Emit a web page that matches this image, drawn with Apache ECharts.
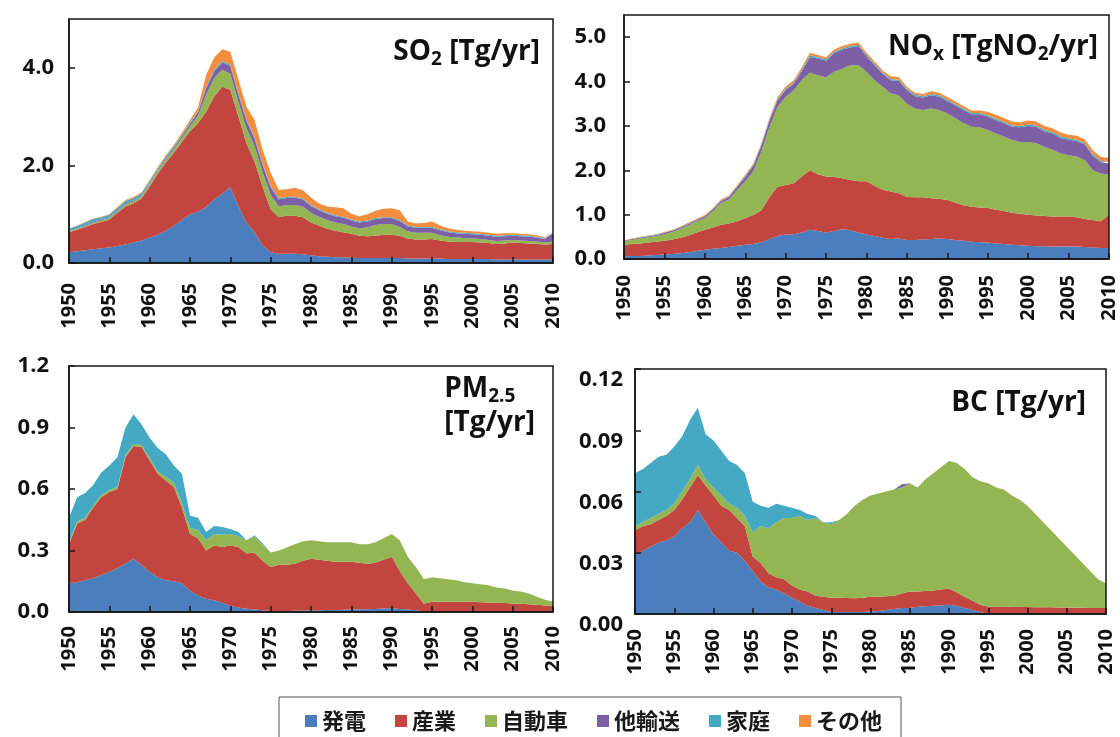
<!DOCTYPE html>
<html>
<head>
<meta charset="utf-8">
<title>日本の大気汚染物質排出量 1950-2010</title>
<script src="https://cdn.jsdelivr.net/npm/echarts@6/dist/echarts.min.js"></script>
<style>
  html, body { margin: 0; padding: 0; background: #fff; }
  #chart { width: 1120px; height: 737px; }
</style>
</head>
<body>
<div id="chart"></div>
<script>
// Years on the horizontal axes (1950 ... 2010)
const years = [];
for (let y = 1950; y <= 2010; y++) years.push(String(y));

const sectors = ['発電', '産業', '自動車', '他輸送', '家庭', 'その他'];
const sectorColors = ['#4a7ebd', '#c2463f', '#93b552', '#7d5fa6', '#45a9c4', '#f28e3e'];

// ---- SO2 [Tg/yr] ----
const so2Power = [.22,.24,.26,.28,.30,.32,.35,.38,.42,.46, .52,.58,.66,.76,.88,1.00,1.05,1.15,1.30,1.42, 1.55,1.17,.83,.63,.36,.22,.19,.19,.19,.18, .16,.14,.13,.12,.12,.11,.10,.10,.10,.10, .10,.10,.09,.09,.09,.09,.09,.08,.08,.08, .08,.08,.08,.07,.07,.07,.07,.07,.07,.07,.07];
const so2Industry = [.41,.44,.48,.52,.54,.57,.68,.78,.80,.86, 1.05,1.25,1.40,1.50,1.60,1.70,1.82,1.95,2.11,2.19, 2.00,1.83,1.63,1.45,1.20,.88,.75,.78,.78,.76, .67,.63,.57,.54,.51,.49,.46,.45,.46,.48, .48,.46,.41,.39,.39,.40,.37,.36,.35,.35, .35,.34,.33,.32,.33,.35,.34,.33,.32,.31,.32];
const so2Vehicle = [.02,.02,.02,.03,.03,.03,.03,.04,.04,.05, .05,.05,.06,.07,.08,.10,.15,.35,.38,.35, .33,.30,.30,.32,.30,.30,.22,.22,.22,.22, .20,.18,.18,.17,.17,.15,.15,.18,.22,.22, .22,.18,.15,.14,.14,.13,.11,.10,.09,.08, .07,.07,.06,.06,.06,.05,.05,.05,.05,.04,.05];
const so2Transport = [.01,.01,.02,.02,.02,.02,.02,.02,.02,.02, .02,.02,.03,.03,.04,.05,.07,.13,.14,.15, .15,.15,.15,.15,.15,.15,.14,.14,.15,.14, .14,.13,.13,.13,.13,.12,.12,.12,.12,.12, .12,.12,.10,.10,.10,.10,.10,.09,.09,.09, .09,.09,.09,.09,.09,.09,.09,.09,.08,.07,.18];
const so2Domestic = [.04,.05,.05,.05,.05,.05,.05,.05,.05,.04, .04,.03,.03,.03,.03,.03,.02,.03,.03,.03, .03,.03,.03,.03,.03,.03,.03,.02,.02,.02, .02,.02,.02,.02,.02,.02,.02,.02,.02,.02, .02,.02,.02,.02,.02,.02,.02,.02,.02,.02, .02,.02,.02,.02,.02,.02,.02,.02,.02,.01,.02];
const so2Other = [.00,.01,.01,.01,.01,.01,.02,.02,.02,.02, .02,.03,.03,.03,.04,.05,.08,.24,.25,.24, .27,.28,.26,.35,.28,.27,.17,.16,.18,.17, .15,.12,.13,.16,.17,.12,.11,.13,.15,.17, .18,.20,.08,.07,.08,.11,.08,.06,.05,.04, .04,.04,.04,.04,.04,.03,.03,.03,.03,.02,.02];

// ---- NOx [TgNO2/yr] ----
const noxPower = [.06,.07,.07,.08,.09,.10,.11,.13,.15,.18, .21,.23,.25,.27,.30,.32,.34,.38,.45,.52, .55,.56,.60,.66,.63,.60,.63,.67,.65,.60, .55,.52,.48,.45,.46,.43,.43,.44,.45,.46, .45,.43,.41,.39,.38,.37,.35,.34,.32,.31, .30,.29,.29,.28,.28,.28,.28,.27,.26,.25,.25];
const noxIndustry = [.26,.27,.28,.29,.30,.31,.33,.35,.38,.42, .45,.48,.52,.53,.55,.60,.65,.72,.95,1.11, 1.12,1.15,1.26,1.34,1.28,1.26,1.22,1.15,1.13,1.15, 1.20,1.13,1.08,1.07,1.02,.97,.96,.95,.92,.90, .88,.84,.80,.79,.78,.78,.76,.74,.72,.71, .70,.69,.68,.68,.68,.68,.66,.63,.62,.60,.75];
const noxVehicle = [.08,.09,.11,.12,.13,.15,.17,.20,.23,.25, .26,.37,.49,.54,.71,.83,.99,1.33,1.58,1.80, 1.99,2.09,2.18,2.20,2.23,2.23,2.37,2.47,2.59,2.62, 2.47,2.38,2.32,2.21,2.21,2.10,2.00,1.97,2.02,2.00, 1.95,1.90,1.85,1.80,1.81,1.76,1.72,1.68,1.64,1.62, 1.64,1.63,1.56,1.50,1.42,1.38,1.37,1.33,1.12,1.08,.90];
const noxTransport = [.01,.02,.02,.02,.02,.03,.03,.03,.03,.03, .04,.04,.05,.06,.07,.10,.12,.13,.14,.15, .15,.15,.20,.35,.38,.38,.42,.43,.40,.43, .35,.34,.29,.30,.32,.30,.28,.28,.30,.30, .28,.29,.30,.28,.29,.30,.30,.30,.30,.33, .36,.37,.35,.37,.35,.35,.35,.35,.33,.25,.25];
const noxDomestic = [.00,.00,.01,.01,.01,.01,.01,.01,.01,.01, .01,.01,.01,.01,.01,.02,.02,.02,.02,.02, .03,.03,.03,.04,.03,.03,.03,.03,.03,.03, .03,.03,.03,.03,.03,.03,.03,.03,.03,.03, .03,.03,.03,.03,.03,.03,.03,.03,.03,.03, .03,.03,.03,.03,.03,.03,.03,.03,.03,.03,.04];
const noxOther = [.01,.01,.01,.01,.01,.01,.01,.01,.02,.02, .02,.02,.02,.02,.02,.03,.03,.03,.04,.05, .05,.05,.05,.06,.05,.05,.05,.05,.05,.05, .05,.05,.05,.06,.06,.05,.05,.05,.06,.06, .06,.06,.06,.06,.06,.08,.09,.09,.09,.08, .09,.09,.09,.09,.09,.08,.09,.09,.09,.09,.09];

// ---- PM2.5 [Tg/yr] ----
const pmPower = [.14,.145,.155,.165,.18,.195,.215,.235,.26,.23, .195,.17,.155,.15,.14,.105,.08,.065,.057,.045, .03,.022,.016,.012,.008,.005,.005,.005,.006,.007, .008,.009,.01,.01,.011,.012,.013,.014,.015,.017, .02,.015,.012,.008,.004,0,0,0,0,0, 0,0,0,0,0,0,0,0,0,0,0];
const pmIndustry = [.19,.285,.295,.345,.38,.39,.385,.52,.55,.575, .545,.505,.485,.46,.37,.275,.28,.235,.268,.272, .295,.295,.269,.278,.242,.215,.225,.225,.229,.243, .252,.246,.24,.235,.234,.233,.227,.221,.225,.238, .25,.185,.128,.082,.036,.05,.05,.05,.05,.05, .05,.048,.046,.045,.044,.042,.04,.038,.035,.032,.03];
const pmVehicle = [.01,.01,.01,.01,.01,.01,.01,.01,.01,.01, .01,.01,.02,.02,.02,.03,.04,.05,.055,.06, .055,.053,.065,.08,.08,.07,.07,.085,.095,.095, .09,.09,.09,.095,.095,.095,.09,.095,.10,.105, .11,.15,.13,.13,.12,.12,.115,.11,.105,.095, .09,.087,.084,.075,.071,.063,.06,.052,.04,.028,.02];
const pmTransport = [0,0,0,0,0,0,0,0,0,0, 0,0,0,0,0,0,0,0,0,0, 0,0,0,0,0,0,0,0,0,0, 0,0,0,0,0,0,0,0,0,0, 0,0,0,0,0,0,0,0,0,0, 0,0,0,0,0,0,0,0,0,0,0];
const pmDomestic = [.12,.12,.12,.10,.11,.12,.145,.135,.145,.10, .10,.115,.11,.085,.145,.06,.06,.04,.04,.038, .025,.02,0,.005,.005,0,0,0,0,0, 0,0,0,0,0,0,0,0,0,0, 0,0,0,0,0,0,0,0,0,0, 0,0,0,0,0,0,0,0,0,0,0];
const pmOther = [0,0,0,0,0,0,0,0,0,0, 0,0,0,0,0,0,0,0,0,0, 0,0,0,0,0,0,0,0,0,0, 0,0,0,0,0,0,0,0,0,0, 0,0,0,0,0,0,0,0,0,0, 0,0,0,0,0,0,0,0,0,0,0];

// ---- BC [Tg/yr] ----
const bcPower = [.029,.031,.033,.035,.036,.038,.042,.045,.051,.045, .039,.035,.031,.030,.026,.021,.016,.013,.012,.010, .008,.006,.004,.003,.002,.001,.001,.001,.001,.001, .0012,.0015,.002,.0025,.003,.003,.0035,.0038,.004,.0042, .0045,.004,.003,.002,.001,0,0,0,0,0, 0,0,0,0,0,0,0,0,0,0,0];
const bcIndustry = [.012,.012,.011,.011,.012,.013,.014,.017,.017,.018, .019,.018,.020,.017,.017,.007,.009,.007,.006,.007, .006,.006,.007,.006,.0065,.007,.007,.0068,.0067,.007, .0073,.007,.0067,.0065,.007,.008,.0075,.0075,.0075,.0078, .008,.0065,.0055,.0045,.0035,.0036,.0035,.0035,.0035,.0034, .0034,.0033,.0033,.0033,.0032,.0032,.0031,.0031,.003,.003,.003];
const bcVehicle = [.002,.002,.003,.003,.003,.003,.004,.004,.005,.003, .004,.005,.003,.005,.005,.012,.018,.022,.027,.030, .033,.036,.035,.038,.0365,.036,.038,.0412,.0453,.048, .0495,.0505,.0513,.052,.052,.053,.051,.0547,.0575,.060, .0625,.0635,.0625,.0605,.0605,.0604,.0585,.0575,.0545,.0526, .0496,.0457,.0417,.0377,.0338,.0298,.0259,.0219,.018,.014,.012];
const bcTransport = [0,0,0,0,0,0,0,0,0,0, 0,0,0,0,0,0,0,0,0,0, 0,0,0,0,0,0,0,0,0,0, 0,0,0,0,.0015,0,0,0,0,0, 0,0,0,0,0,0,0,0,0,0, 0,0,0,0,0,0,0,0,0,0,0];
const bcDomestic = [.026,.026,.027,.028,.027,.028,.027,.029,.028,.022, .023,.022,.021,.021,.021,.015,.010,.010,.009,.006, .005,.003,.003,.001,0,.001,0,0,0,0, 0,0,0,0,0,0,0,0,0,0, 0,0,0,0,0,0,0,0,0,0, 0,0,0,0,0,0,0,0,0,0,0];
const bcOther = [0,0,0,0,0,0,0,0,0,0, 0,0,0,0,0,0,0,0,0,0, 0,0,0,0,0,0,0,0,0,0, 0,0,0,0,0,0,0,0,0,0, 0,0,0,0,0,0,0,0,0,0, 0,0,0,0,0,0,0,0,0,0,0];

// Panel layout and axis settings
const AXIS_FONT = '"Open Sans", Lato, sans-serif';
const INK = '#161616';
const panels = [
  { box: { left: 69, top: 19, width: 484, height: 244 }, max: 5, interval: 2, digits: 1, hideMax: true, labelMargin: 15, xMargin: 20,
    values: [so2Power, so2Industry, so2Vehicle, so2Transport, so2Domestic, so2Other] },
  { box: { left: 624, top: 15, width: 485, height: 244 }, max: 5.5, interval: 1, digits: 1, hideMax: true, labelMargin: 18, xMargin: 16,
    values: [noxPower, noxIndustry, noxVehicle, noxTransport, noxDomestic, noxOther] },
  { box: { left: 69, top: 366, width: 484, height: 246 }, max: 1.2, interval: 0.3, digits: 1, hideMax: false, labelMargin: 20, xMargin: 14,
    values: [pmPower, pmIndustry, pmVehicle, pmTransport, pmDomestic, pmOther] },
  { box: { left: 635, top: 369, width: 471, height: 245 }, max: 0.12, interval: 0.03, digits: 2, hideMax: false, labelMargin: 12, xMargin: 15, labelBelow: true,
    values: [bcPower, bcIndustry, bcVehicle, bcTransport, bcDomestic, bcOther] }
];

const chart = echarts.init(document.getElementById('chart'), null, { renderer: 'canvas', width: 1120, height: 737 });

const grids = panels.map(p => ({ left: p.box.left, top: p.box.top, width: p.box.width, height: p.box.height, containLabel: false }));

const xAxes = panels.map((p, i) => ({
  gridIndex: i,
  type: 'category',
  data: years,
  boundaryGap: false,
  z: 10,
  axisLine: { show: true, lineStyle: { color: INK, width: 1.5 } },
  axisTick: { show: true, inside: true, length: 6, interval: 4, lineStyle: { color: INK, width: 1.5 } },
  axisLabel: { interval: 4, rotate: 90, margin: p.xMargin, color: '#111', fontFamily: AXIS_FONT, fontWeight: 'bold', fontSize: 20 },
  splitLine: { show: false }
}));

const yAxes = panels.map((p, i) => ({
  gridIndex: i,
  type: 'value',
  min: 0,
  max: p.max,
  interval: p.interval,
  z: 10,
  axisLine: { show: true, lineStyle: { color: INK, width: 1.5 } },
  axisTick: { show: true, inside: true, length: 6, lineStyle: { color: INK, width: 1.5 } },
  splitLine: { show: false },
  axisLabel: {
    showMaxLabel: !p.hideMax,
    margin: p.labelMargin,
    color: '#111',
    fontFamily: AXIS_FONT,
    fontWeight: 'bold',
    fontSize: 22,
    verticalAlign: p.labelBelow ? 'top' : 'middle',
    formatter: v => v.toFixed(p.digits)
  }
}));

const series = [];
panels.forEach((p, i) => {
  sectors.forEach((name, s) => {
    series.push({
      type: 'line',
      name: name,
      xAxisIndex: i,
      yAxisIndex: i,
      stack: 'panel' + i,
      data: p.values[s],
      symbol: 'none',
      silent: true,
      lineStyle: { width: 0 },
      itemStyle: { color: sectorColors[s] },
      areaStyle: { color: sectorColors[s], opacity: 1 },
      emphasis: { disabled: true }
    });
  });
});

// Panel titles with subscripts
const TITLE_FONT = '"Open Sans", Lato, sans-serif';
const titleRich = {
  a: { fontFamily: TITLE_FONT, fontWeight: 'bold', fontSize: 28, color: '#111', lineHeight: 34 },
  s: { fontFamily: TITLE_FONT, fontWeight: 'bold', fontSize: 19, color: '#111', lineHeight: 14, verticalAlign: 'bottom' }
};
const titles = [
  { text: '{a|SO}{s|2}{a| [Tg/yr]}', right: 580, top: 35 },
  { text: '{a|NO}{s|x}{a| [TgNO}{s|2}{a|/yr]}', right: 22, top: 30 },
  { text: '{a|PM}{s|2.5}\n{a|[Tg/yr]}', right: 585, top: 372 },
  { text: '{a|BC [Tg/yr]}', right: 34, top: 386 }
].map(t => ({
  text: t.text, right: t.right, top: t.top, padding: 0,
  textStyle: { rich: titleRich, lineHeight: 34 }
}));

// Frames around each plot area, drawn above the filled areas
const frames = panels.map(p => ({
  type: 'rect',
  z: 100,
  silent: true,
  shape: { x: p.box.left, y: p.box.top, width: p.box.width, height: p.box.height },
  style: { fill: null, stroke: INK, lineWidth: 1.5 }
}));

const option = {
  backgroundColor: '#ffffff',
  animation: false,
  title: titles,
  grid: grids,
  xAxis: xAxes,
  yAxis: yAxes,
  series: series,
  legend: {
    data: sectors,
    left: 300,
    top: 705,
    icon: 'rect',
    itemWidth: 12,
    itemHeight: 12,
    itemGap: 29,
    selectedMode: false,
    textStyle: { fontFamily: '"Noto Sans CJK JP", sans-serif', fontWeight: 'bold', fontSize: 22, color: '#1a1a1a' }
  },
  graphic: frames.concat([{
    type: 'rect',
    z: 1,
    silent: true,
    shape: { x: 279, y: 697, width: 622, height: 60 },
    style: { fill: '#fff', stroke: '#555', lineWidth: 1 }
  }])
};

chart.setOption(option);
</script>
</body>
</html>
